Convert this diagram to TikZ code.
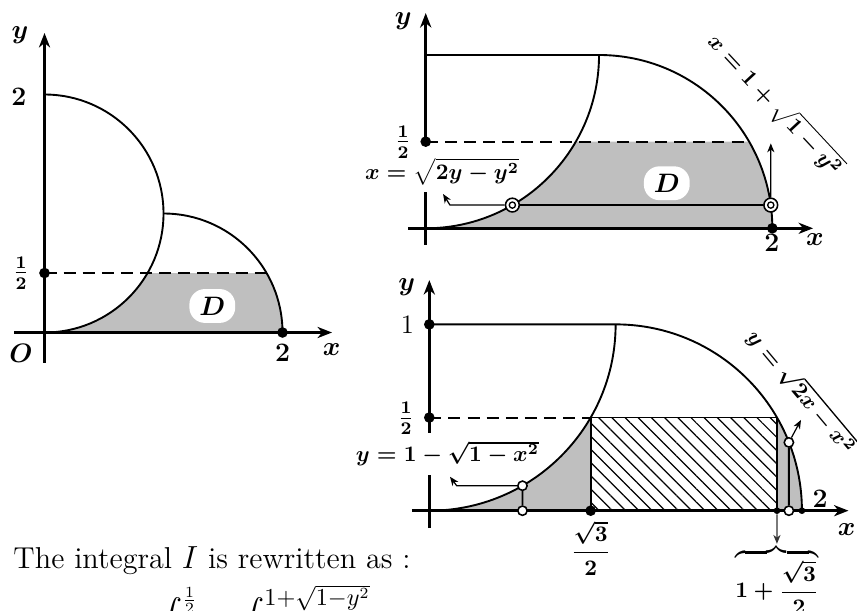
\documentclass[tikz,border=0pt]{standalone}
\usepackage{amsmath}
\usepackage{amssymb}
\usepackage{tikz}
\usetikzlibrary{arrows.meta}
\usetikzlibrary{patterns.meta}
\usetikzlibrary{positioning}
\usetikzlibrary{calc}

\tikzset{
	achse/.style={line width=1.3pt, -{Stealth[length=6.5pt, width=5pt, inset=2pt]}},
	kurve/.style={line width=0.85pt},
	gestrichelt/.style={line width=0.9pt, dash pattern=on 5.4pt off 3.2pt},
	gebiet/.style={fill=black!25},
	schraffur/.style={pattern={Lines[angle=-45, distance=4.2pt, line width=0.55pt]}},
	zeiger/.style={line width=0.55pt, -{Stealth[length=4pt, width=3.2pt, inset=1.2pt]}},
	punkt/.style={circle, fill=black, inner sep=0pt, minimum size=4.8pt},
	kleinpunkt/.style={circle, fill=black, inner sep=0pt, minimum size=3pt},
	ring/.style={circle, draw=black, fill=white, line width=0.7pt, inner sep=0pt, minimum size=4.2pt},
	doppelring/.style={circle, draw=black, fill=white, line width=0.7pt, inner sep=0pt, minimum size=6.2pt,
		path picture={\draw[line width=0.6pt] (path picture bounding box.center) circle (1.4pt);}},
	wert/.style={font=\boldmath, inner sep=1pt},
	gross/.style={font=\large\boldmath, inner sep=1pt},
	dlabel/.style={fill=white, rounded corners=7pt, inner xsep=4.5pt, inner ysep=3.5pt, font=\large\boldmath}
}

\begin{document}
\begin{tikzpicture}
		%Rahmen
		\useasboundingbox (0,0) rectangle (13.554,9.663);

		%Bild links
		\begin{scope}[xshift=0.704cm, yshift=4.404cm, scale=1.882]
			%Gebiet D
			\fill[gebiet] (0,0) arc[start angle=-90, end angle=-30, radius=1] -- (1.866,0.5)
				arc[start angle=30, end angle=0, radius=1] -- cycle;

			%Kreisboegen
			\draw[kurve] (0,2) arc[start angle=90, end angle=-90, radius=1];
			\draw[kurve] (1,1) arc[start angle=90, end angle=0, radius=1];
			\draw[gestrichelt] (0,0.5) -- (1.866,0.5);

			%Achsen
			\draw[achse] (-0.256,0) -- (2.416,0);
			\draw[achse] (0,-0.256) -- (0,2.517);

			\node[punkt] (lhalb) at (0,0.5) {};
			\node[punkt] (lzwei) at (2,0) {};
			\node[dlabel] (lD) at (1.41,0.223) {$D$};
			\node[gross] (ly) at (-0.206,2.5) {$y$};
			\node[gross] (lx) at (2.413,-0.147) {$x$};
			\node[gross] (lO) at (-0.197,-0.176) {$O$};
			\node[gross] (lzweiy) at (-0.215,1.979) {$2$};
			\node[gross] (lhalbw) at (-0.198,0.5) {$\frac{1}{2}$};
			\node[gross] (lzweiw) at (2,-0.17) {$2$};
		\end{scope}

		%Bild oben rechts
		\begin{scope}[xshift=6.733cm, yshift=6.052cm, scale=2.741]
			%Gebiet D
			\fill[gebiet] (0,0) arc[start angle=-90, end angle=-30, radius=1] -- (1.866,0.5)
				arc[start angle=30, end angle=0, radius=1] -- cycle;

			%Kurven
			\draw[kurve] (0,1) -- (1,1) arc[start angle=90, end angle=0, radius=1];
			\draw[kurve] (0,0) arc[start angle=-90, end angle=0, radius=1];
			\draw[gestrichelt] (0,0.5) -- (1.866,0.5);

			%Achsen
			\draw[achse] (-0.1,0) -- (2.235,0);
			\draw[line width=1.3pt] (0,-0.096) -- (0,0.21);
			\draw[achse] (0,0.5) -- (0,1.242);

			\node[punkt] (ohalb) at (0,0.5) {};
			\node[punkt] (ozwei) at (2,0) {};

			%Schnitt bei festem y
			\node[doppelring] (ol) at (0.5,0.134) {};
			\node[doppelring] (or) at (1.991,0.134) {};
			\coordinate (oknick) at (0.14,0.134);
			\coordinate (ospitze) at (0.10,0.198);
			\coordinate (ooben) at (1.991,0.49);
			\draw[line width=0.6pt] (ol) -- (or);
			\draw[zeiger] (ol) -- (oknick) -- (ospitze);
			\draw[zeiger] (or) -- (ooben);

			\node[dlabel] (oD) at (1.391,0.26) {$D$};
			\node[gross] (oy) at (-0.129,1.198) {$y$};
			\node[gross] (ox) at (2.246,-0.064) {$x$};
			\node[gross] (ohalbw) at (-0.131,0.498) {$\frac{1}{2}$};
			\node[gross] (ozweiw) at (1.997,-0.085) {$2$};
			\node[wert] (olinks) at (0.094,0.325) {$x=\sqrt{2y-y^2}$};
			\node[wert, rotate=-47] (orechts) at (2.016,0.711) {$x=1+\sqrt{1-y^2}$};
		\end{scope}

		%Bild unten rechts
		\begin{scope}[xshift=6.790cm, yshift=1.586cm, scale=2.9465]
			%Grauflaechen und Rechteck
			\fill[gebiet] (0,0) arc[start angle=-90, end angle=-30, radius=1] -- (0.866,0) -- cycle;
			\fill[gebiet] (1.866,0) -- (1.866,0.5) arc[start angle=30, end angle=0, radius=1] -- cycle;
			\fill[schraffur] (0.866,0) rectangle (1.866,0.5);

			%Kurven
			\draw[kurve] (0,1) -- (1,1) arc[start angle=90, end angle=0, radius=1];
			\draw[kurve] (0,0) arc[start angle=-90, end angle=0, radius=1];
			\draw[gestrichelt] (0,0.5) -- (0.866,0.5);
			\draw[kurve] (0.866,0) -- (0.866,0.5) -- (1.866,0.5) -- (1.866,0);

			%Achsen
			\draw[achse] (-0.094,0) -- (2.25,0);
			\draw[line width=1.3pt] (0,-0.094) -- (0,0.19);
			\draw[achse] (0,0.417) -- (0,1.238);

			\node[punkt] (ueins) at (0,1) {};
			\node[punkt] (uhalb) at (0,0.5) {};
			\node[punkt] (uwurzel) at (0.866,0) {};
			\node[kleinpunkt] (urand) at (1.866,0) {};
			\node[kleinpunkt] (uzwei) at (2,0) {};

			%Schnitte bei festem x
			\node[ring] (ulu) at (0.5,0) {};
			\node[ring] (ulo) at (0.5,0.134) {};
			\node[ring] (uru) at (1.93,0) {};
			\node[ring] (uro) at (1.93,0.3665) {};
			\draw[line width=0.8pt] (ulu) -- (ulo);
			\draw[line width=0.8pt] (uru) -- (uro);
			\coordinate (uknick) at (0.147,0.134);
			\coordinate (uspitze) at (0.111,0.182);
			\coordinate (uschraeg) at (1.995,0.487);
			\draw[zeiger] (ulo) -- (uknick) -- (uspitze);
			\draw[zeiger] (uro) -- (uschraeg);

			\node[gross] (uy) at (-0.121,1.2) {$y$};
			\node[gross] (ux) at (2.24,-0.104) {$x$};
			\node[inner sep=1pt, font=\fontsize{11.5}{13}\selectfont] (ueinsw) at (-0.118,0.997) {$1$};
			\node[gross] (uhalbw) at (-0.125,0.495) {$\frac{1}{2}$};
			\node[wert] (uwurzelw) at (0.866,-0.2) {$\dfrac{\sqrt{3}}{2}$};
			\node[gross] (uzweiw) at (2.097,0.061) {$2$};
			\node[wert] (ulinks) at (0.097,0.308) {$y=1-\sqrt{1-x^2}$};
			\node[wert, rotate=-50] (urechts) at (1.999,0.639) {$y=\sqrt{2x-x^2}$};
			\node[wert, anchor=north, inner sep=0pt] (uklammer) at (1.866,-0.178) {$\overbrace{1+\dfrac{\sqrt{3}}{2}}$};
			\draw[zeiger, black!80] (urand) -- (uklammer.north);
		\end{scope}

		%Text
		\node[anchor=base west, inner sep=0pt, font=\fontsize{13.6}{16}\selectfont] (text) at (0.206,0.664)
			{The integral $I$ is rewritten as :};
		\node[anchor=north west, inner sep=0pt, font=\fontsize{13.6}{16}\selectfont] (integral) at (2.40,0.41)
			{$\displaystyle\int_{0}^{\frac{1}{2}}\hspace{14pt}\int_{\sqrt{2y-y^2}}^{\mbox{\fontsize{10.5}{12}\selectfont$1{+}\sqrt{1{-}y^2}$}}$};
\end{tikzpicture}
\end{document}
